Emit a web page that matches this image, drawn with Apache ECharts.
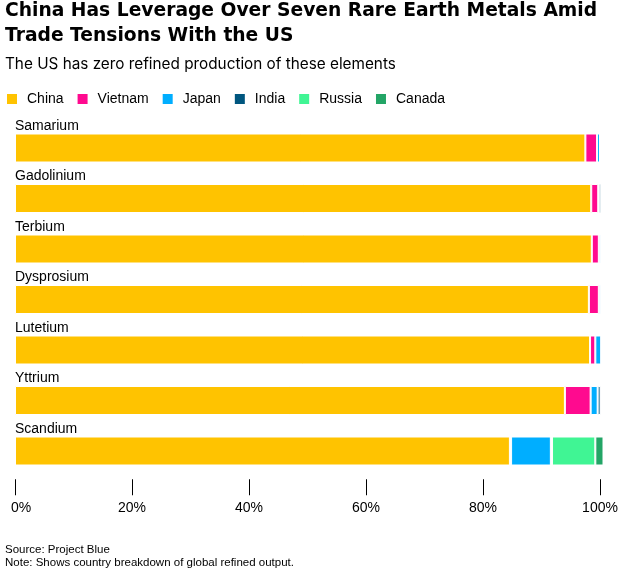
<!DOCTYPE html>
<html>
<head>
<meta charset="utf-8">
<script src="https://cdn.jsdelivr.net/npm/echarts@6/dist/echarts.min.js"></script>
<style>
  html, body { margin: 0; padding: 0; background: #fff; }
  #chart { width: 625px; height: 571px; }
</style>
</head>
<body>
<div id="chart"></div>
<script>
const categories = ['Samarium', 'Gadolinium', 'Terbium', 'Dysprosium', 'Lutetium', 'Yttrium', 'Scandium'];
const countries = ['China', 'Vietnam', 'Japan', 'India', 'Russia', 'Canada'];
const china   = [97.5, 98.5, 98.6, 98.1, 98.3, 94.0, 84.6];
const vietnam = [2.0, 1.2, 1.2, 1.7, 0.9, 4.4, 0.2];
const japan   = [0.5, 0.1, 0.3, 0.3, 1.0, 1.2, 6.8];
const india   = [0, 0.4, 0, 0, 0, 0.5, 0.2];
const russia  = [0, 0, 0, 0, 0, 0, 7.4];
const canada  = [0, 0, 0, 0, 0, 0, 1.4];
const xTicks = [0, 20, 40, 60, 80, 100];

const colors = ['#FFC300', '#FF0A8F', '#00AEFF', '#00567F', '#40F594', '#23A566'];
const seriesValues = [china, vietnam, japan, india, russia, canada];
const FONT = '"Liberation Sans", Arial, sans-serif';
const TFONT = '"DejaVu Sans", "Liberation Sans", Arial, sans-serif';
const SFONT = 'Inter, "Liberation Sans", Arial, sans-serif';

const chart = echarts.init(document.getElementById('chart'), null, { renderer: 'canvas' });
chart.setOption({
  animation: false,
  color: colors,
  title: [
    {
      text: 'China Has Leverage Over Seven Rare Earth Metals Amid\nTrade Tensions With the US',
      left: 5, top: -1, padding: 0,
      textStyle: { fontFamily: TFONT, fontWeight: 'bold', fontSize: 18.7, lineHeight: 24.5, color: '#000' }
    },
    {
      text: 'The US has zero refined production of these elements',
      left: 5, top: 55, padding: 0,
      textStyle: { fontFamily: SFONT, fontWeight: 'normal', fontSize: 15.3, lineHeight: 19, color: '#000' }
    },
    {
      text: 'Source: Project Blue\nNote: Shows country breakdown of global refined output.',
      left: 5, top: 543, padding: 0,
      textStyle: { fontFamily: FONT, fontWeight: 'normal', fontSize: 11.5, lineHeight: 13.5, color: '#000' }
    }
  ],
  legend: {
    data: countries,
    left: 5, top: 92, padding: 0,
    icon: 'rect',
    itemWidth: 12, itemHeight: 12,
    itemGap: 12,
    textStyle: { fontFamily: FONT, fontSize: 14, color: '#000', padding: [0, 0, 0, 4] }
  },
  grid: { left: 15, right: 25, top: 122.75, bottom: 94.75, containLabel: false },
  xAxis: {
    type: 'value', min: 0, max: 100, interval: 20,
    offset: 3,
    axisLine: { show: false },
    splitLine: { show: false },
    axisTick: { show: true, length: 16, lineStyle: { color: '#000', width: 1 } },
    axisLabel: {
      margin: 22,
      fontFamily: FONT, fontSize: 14, color: '#000',
      formatter: function (v) { return v === 0 ? '{z|0%}' : v + '%'; },
      rich: { z: { fontFamily: FONT, fontSize: 14, color: '#000', padding: [0, 0, 0, 12] } }
    }
  },
  yAxis: {
    type: 'category', data: categories, inverse: true,
    axisLine: { show: false }, axisTick: { show: false },
    axisLabel: {
      show: true, interval: 0, hideOverlap: false,
      inside: true, margin: 0, align: 'left', verticalAlign: 'bottom',
      lineHeight: 16,
      padding: [0, 0, 14, 0],
      fontFamily: FONT, fontSize: 14, color: '#000'
    },
    z: 10
  },
  series: countries.map(function (name, i) {
    return {
      name: name,
      type: 'bar',
      stack: 'total',
      barWidth: 29,
      clip: false,
      itemStyle: { color: colors[i], borderColor: '#fff', borderWidth: 1 },
      emphasis: { disabled: true },
      data: seriesValues[i].map(function (v) { return v === 0 ? '-' : v; })
    };
  })
});
</script>
</body>
</html>
